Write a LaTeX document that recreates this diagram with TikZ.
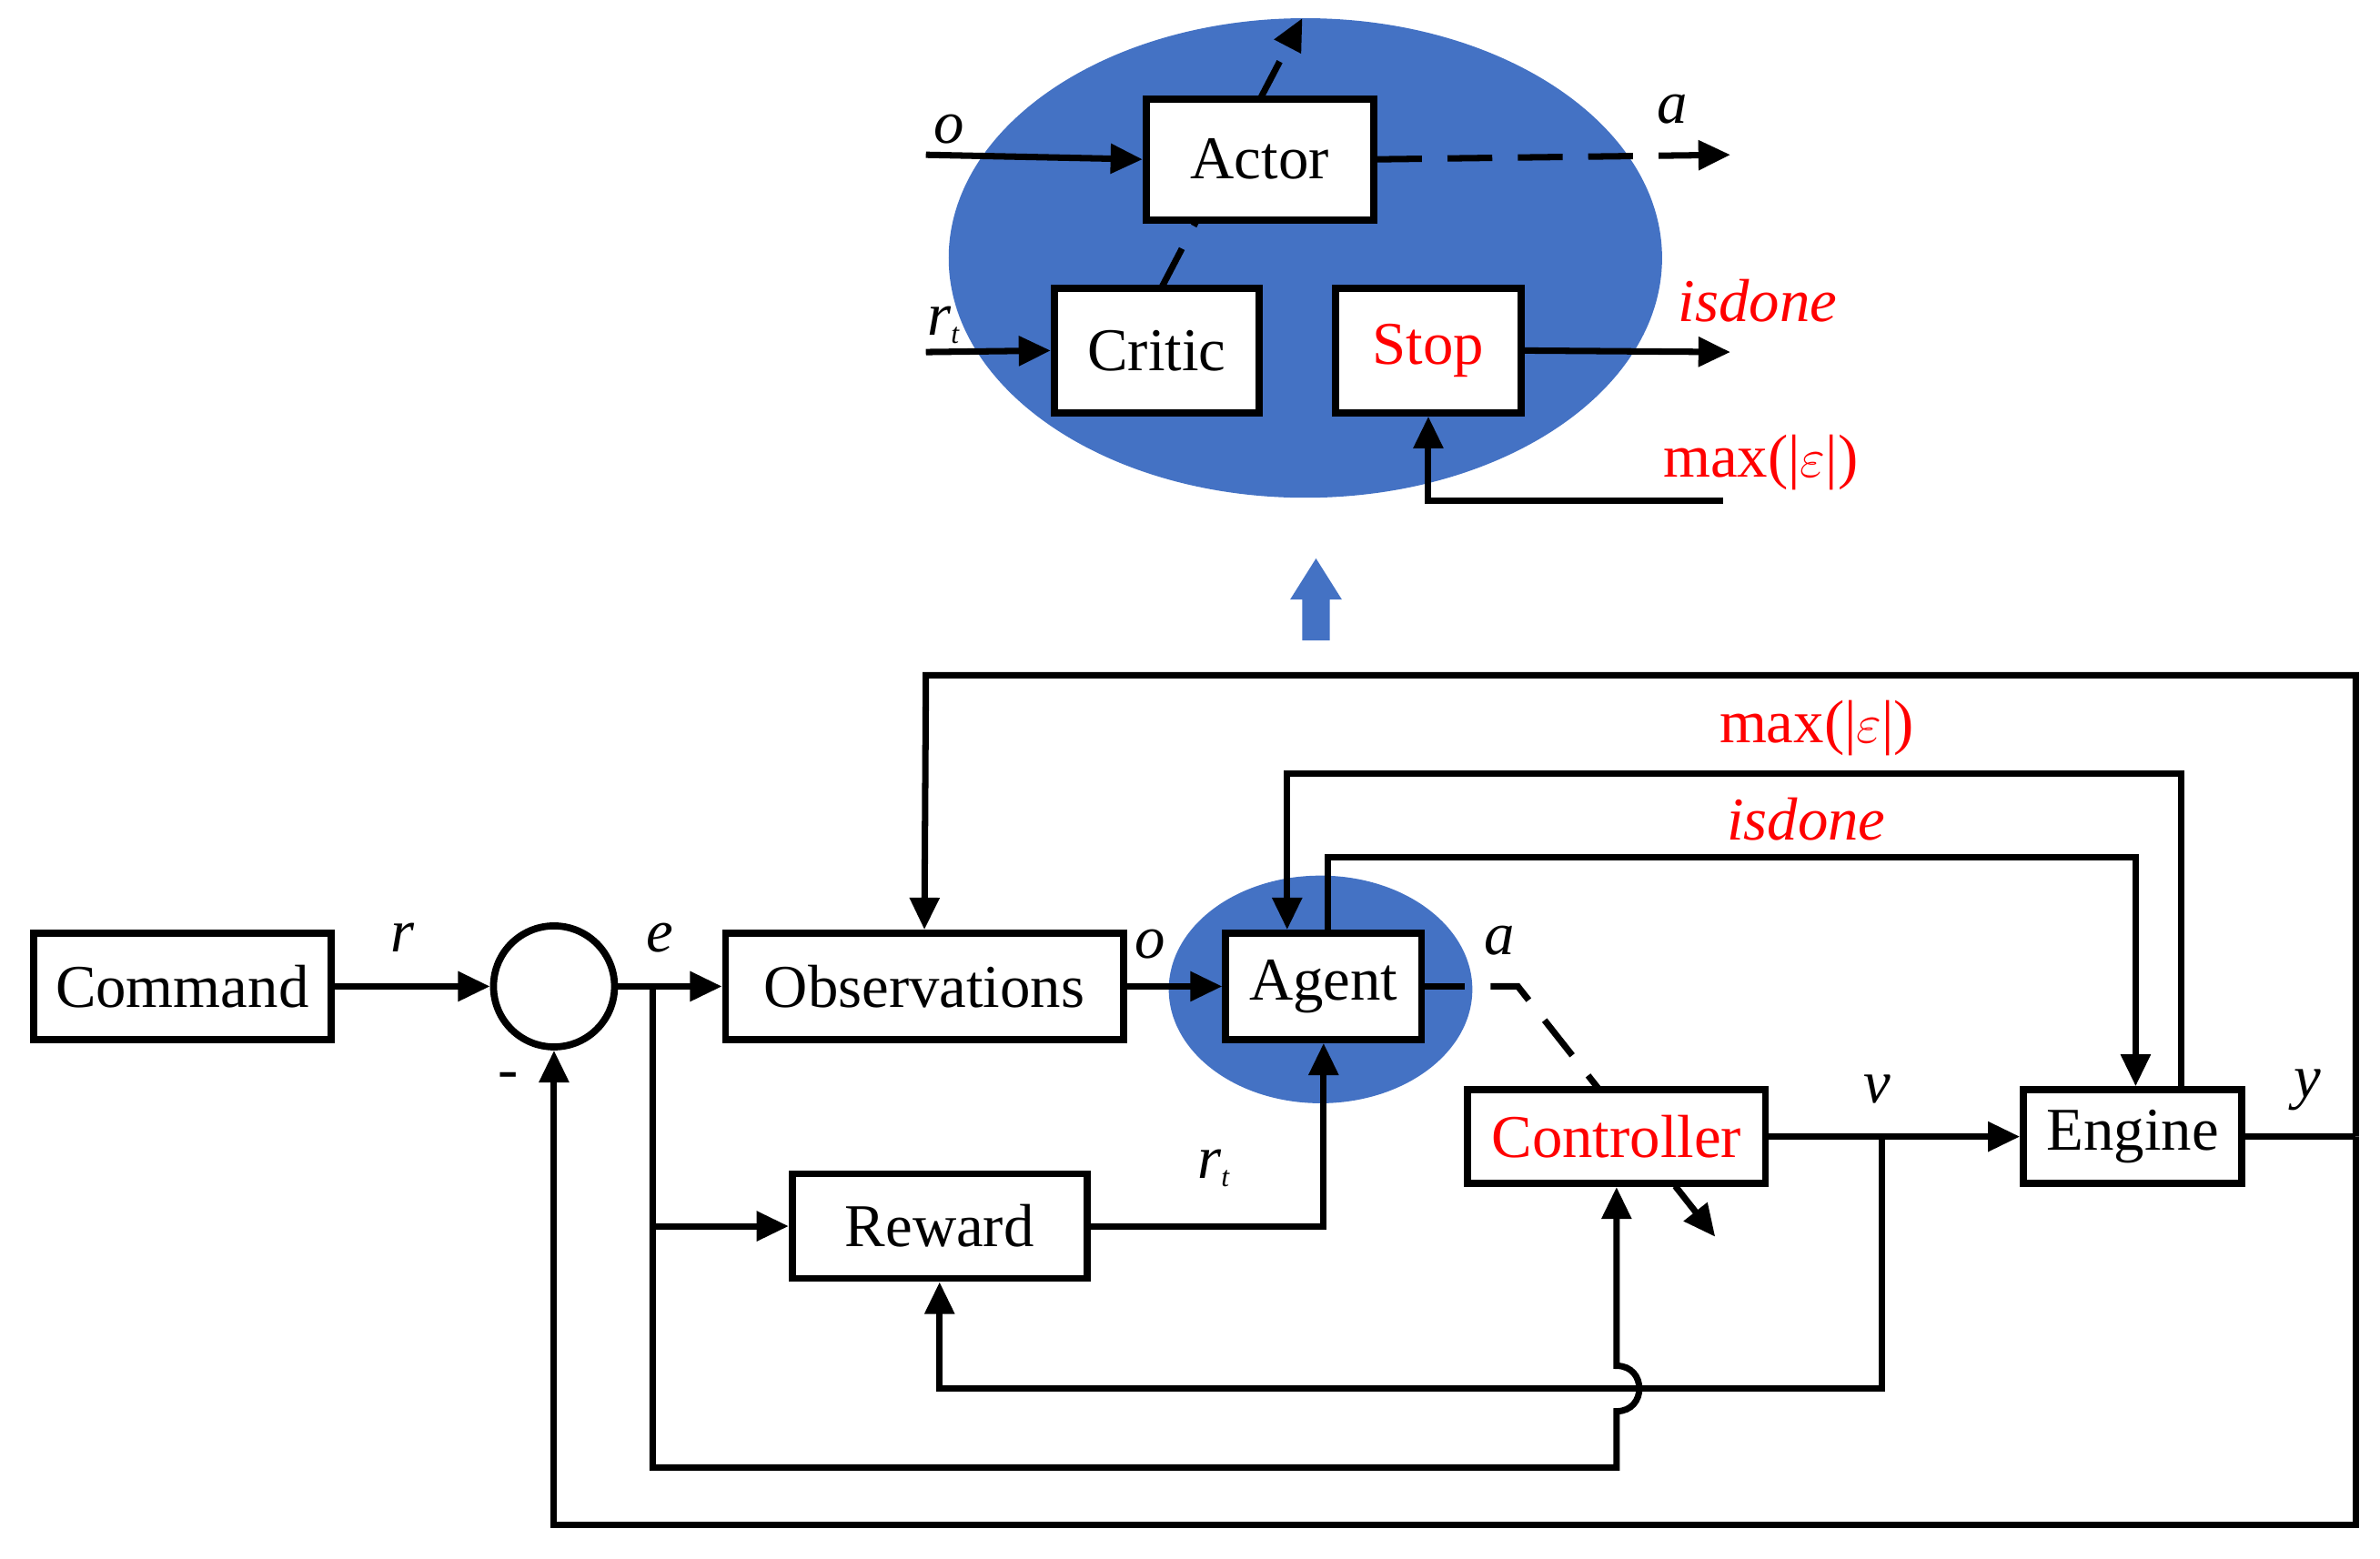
\documentclass[tikz,border=0pt]{standalone}
\usepackage{fontspec}
\setmainfont{Liberation Serif}
\usetikzlibrary{arrows.meta,shapes.geometric}
\definecolor{agentblue}{RGB}{68,114,196}
\tikzstyle{blk}=[draw,line width=2.2pt,fill=white,inner sep=0pt,font=\fontsize{19}{20}\selectfont]
\tikzstyle{sig}=[line width=2pt,-{Triangle[length=10pt,width=9pt]}]
\tikzstyle{lab}=[font=\fontsize{19}{20}\selectfont\itshape]
\tikzstyle{redlab}=[font=\fontsize{19}{20}\selectfont,text=red]

\begin{document}
\begin{tikzpicture}[x=0.016684cm,y=-0.016684cm]
\useasboundingbox (0,0) rectangle (1568,1027);

% agent detail
\fill[agentblue] (860,170) ellipse (235 and 158);
\draw[sig,dashed,dash pattern=on 14pt off 8pt] (765,190) -- (858,12);
\node[blk] (actor) [minimum width=2.5cm,minimum height=1.33cm] at (830,105) {Actor};
\node[blk] (critic) [minimum width=2.25cm,minimum height=1.37cm] at (762,231) {Critic};
\node[blk,text=red] (stop) [minimum width=2.04cm,minimum height=1.37cm] at (941,231) {Stop};
\coordinate (oin) at (610,102);
\coordinate (rin) at (610,232);
\coordinate (aout) at (1140,102);
\coordinate (dout) at (1140,232);
\coordinate (mxin) at (1135,330);
\draw[sig] (oin) -- (actor.west);
\draw[sig] (rin) -- (critic.west);
\draw[sig,dashed,dash pattern=on 14pt off 8pt] (actor.east) -- (aout);
\draw[sig] (stop.east) -- (dout);
\draw[sig] (mxin) -| (stop.south);
\node[lab] at (625,85) {o};
\node[lab] at (622,214) {r\textsubscript{\small t}};
\node[lab] at (1102,72) {a};
\node[redlab,font=\fontsize{19}{20}\selectfont\itshape] at (1158,198) {isdone};
\node[redlab] at (1160,305) {max(|$\varepsilon$|)};

% zoom arrow
\fill[agentblue] (858,422) -- (858,395) -- (850,395) -- (867,368) -- (884,395) -- (876,395) -- (876,422) -- cycle;

% loop
\fill[agentblue] (870,652) ellipse (100 and 75);
\node[blk] (cmd) [minimum width=3.27cm,minimum height=1.17cm] at (120,650) {Command};
\node[draw,circle,line width=2.2pt,minimum size=1.33cm] (sum) at (365,650) {};
\node[blk] (obs) [minimum width=4.37cm,minimum height=1.17cm] at (609,650) {Observations};
\node[blk] (agent) [minimum width=2.15cm,minimum height=1.17cm] at (872,650) {Agent};
\draw[line width=2pt] (agent.east) -- (965,650);
\draw[sig,dashed,dash pattern=on 14pt off 8pt] (982,650) -- (1000,650) -- (1130,815);
\node[blk,text=red] (ctrl) [minimum width=3.27cm,minimum height=1.03cm] at (1065,749) {Controller};
\node[blk] (eng) [minimum width=2.4cm,minimum height=1.03cm] at (1405,749) {Engine};
\node[blk] (rew) [minimum width=3.24cm,minimum height=1.15cm] at (619,808) {Reward};

\coordinate (ebr) at (430,650);
\coordinate (vbr) at (1240,749);
\coordinate (ybr) at (1552,749);
\draw[sig] (cmd.east) -- (sum.west);
\draw[sig] (sum.east) -- (obs.west);
\draw[sig] (obs.east) -- (agent.west);
\draw[sig] (ctrl.east) -- (eng.west);
\draw[line width=2pt] (eng.east) -- (ybr);
\draw[sig] (ebr) |- (rew.west);
\draw[sig] (rew.east) -| (agent.south);
\draw[sig] (vbr) |- (880,915) -| (rew.south);
\draw[sig] (ebr) |- (1065,967) -- (1065,930) .. controls (1085,930) and (1085,900) .. (1065,900) -- (ctrl.south);
\draw[sig] (ybr) |- (610,445) -- (obs.north);
\draw[sig] (ybr) |- (365,1005) -- (sum.south);
\draw[sig] (eng.north -| 1437,0) |- (848,510) -- (agent.north -| 848,0);
\draw[sig] (agent.north -| 875,0) |- (1407,565) -- (eng.north -| 1407,0);

\node[lab] at (265,618) {r};
\node[lab] at (435,618) {e};
\node[lab] at (758,622) {o};
\node[lab] at (988,620) {a};
\node[lab] at (1237,718) {v};
\node[lab] at (1520,718) {y};
\node[lab] at (800,770) {r\textsubscript{\small t}};
\node[font=\fontsize{19}{20}\selectfont] at (335,712) {-};
\node[redlab] at (1197,480) {max(|$\varepsilon$|)};
\node[redlab,font=\fontsize{19}{20}\selectfont\itshape] at (1190,540) {isdone};
\end{tikzpicture}
\end{document}
